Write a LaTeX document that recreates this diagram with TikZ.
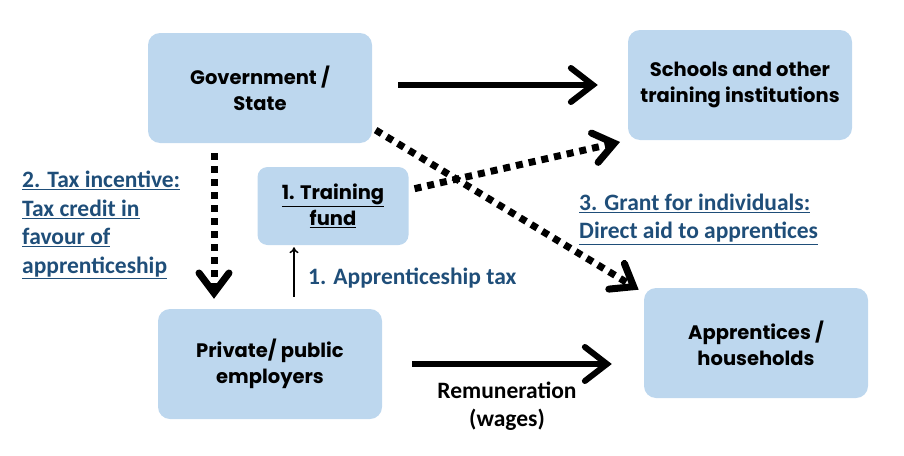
\documentclass[tikz,border=0pt]{standalone}
\usepackage{fontspec}
\setmainfont{Carlito}
\newfontfamily\boxfont{Poppins}
\usetikzlibrary{arrows.meta}
\definecolor{boxblue}{HTML}{BDD7EE}
\definecolor{labelblue}{HTML}{1F4E79}
\tikzset{
  actor/.style={fill=boxblue, rounded corners=12pt, minimum width=224pt, minimum height=110pt,
    align=center, font=\boxfont\bfseries\fontsize{19.5}{26}\selectfont},
  bigarrow/.style={line width=6pt, -{Straight Barb[length=22pt,width=34pt,line cap=round]}},
  dotarrow/.style={line width=7pt, dash pattern=on 7pt off 6pt,
    -{Straight Barb[length=20pt,width=30pt,line cap=round]}},
  note/.style={text=labelblue, align=left, inner sep=0pt, font=\bfseries\fontsize{23.5}{28.5}\selectfont}
}
\begin{document}
\begin{tikzpicture}[x=1pt,y=-1pt]
        \useasboundingbox (0,0) rectangle (904,455);

        \begin{scope}[every node/.style={actor}]
          \node (gov)         at (260,88)  {Government /\\State};
          \node (schools)     at (740,85)  {Schools and other\\training institutions};
          \node (employers)   at (270,364) {Private/ public\\employers};
          \node (apprentices) at (756,343) {Apprentices /\\households};
          \node[minimum width=151pt, minimum height=78pt, rounded corners=10pt] (fund) at (333,206)
            {\underline{1. Training}\\\underline{fund}};
        \end{scope}

        \begin{scope}[every node/.style={note}]
          \node[anchor=north west] (taxlabel) at (22,171)
            {\underline{2. Tax incentive:}\\\underline{Tax credit in}\\\underline{favour of}\\\underline{apprenticeship}};
          \node[anchor=west] (levylabel) at (308,278) {1. Apprenticeship tax};
          \node[anchor=west] (grantlabel) at (579,219)
            {\underline{3. Grant for individuals:}\\\underline{Direct aid to apprentices}};
          \node[text=black, align=center] (wagelabel) at (507,406) {Remuneration\\(wages)};
        \end{scope}

        \draw[bigarrow, shorten <=26pt, shorten >=30pt] ([yshift=3pt]gov.east) -- (schools.west);
        \draw[bigarrow, shorten <=30pt, shorten >=32pt] (employers.east) -- (apprentices.west |- employers.east);
        \draw[dotarrow, shorten <=10pt, shorten >=10pt] ([xshift=-46pt]gov.south) -- ([xshift=-56pt]employers.north);
        \draw[dotarrow, shorten <=4pt, shorten >=6pt] ([yshift=-40pt]gov.east) -- ([yshift=-5pt]apprentices.north west);
        \draw[dotarrow, shorten <=6pt, shorten >=8pt] ([yshift=16pt]fund.east) -- (schools.south west);
        \draw[line width=1.5pt, -{To[length=6pt,width=9pt]}, shorten <=12pt, shorten >=2pt]
          ([xshift=24pt]employers.north) -- ([xshift=-39pt]fund.south);

      \end{tikzpicture}
\end{document}
